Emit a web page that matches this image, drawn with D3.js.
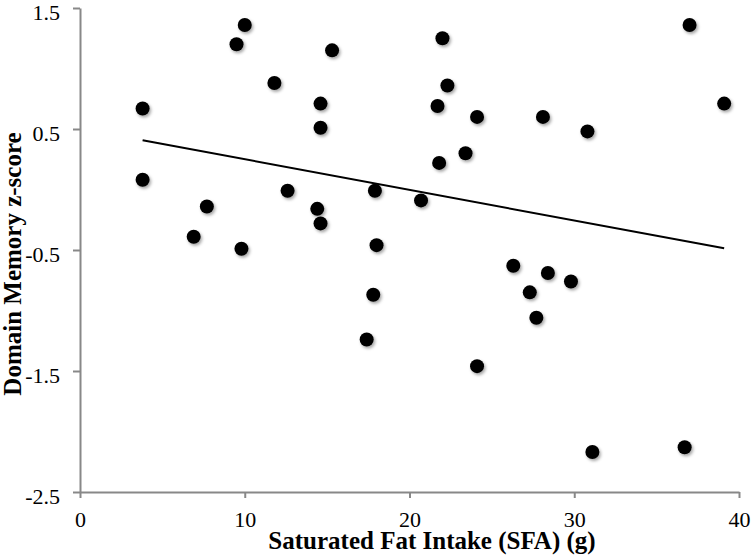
<!DOCTYPE html>
<meta charset="utf-8">
<html lang="en">
<head>
    <title>D3</title>
    <script src="https://d3js.org/d3.v7.min.js"></script>
    <style>
        body { margin: 0; background: #fff; }
    </style>
</head>
<body>
    <div id="viz"></div>
    <script>
        // data
        const sfa = [3.8, 3.8, 6.9, 7.7, 9.5, 10.0, 9.8, 11.8, 12.6, 15.3, 14.6, 14.6, 14.4, 14.6,
            17.9, 18.0, 17.8, 17.4, 20.7, 22.0, 22.3, 21.7, 24.1, 23.4, 21.8, 24.1,
            28.1, 30.8, 37.0, 39.1, 26.3, 28.4, 29.8, 27.3, 27.7, 31.1, 36.7];
        const memory = [0.67, 0.08, -0.39, -0.14, 1.20, 1.36, -0.49, 0.88, -0.01, 1.15, 0.71, 0.51, -0.16, -0.28,
            -0.01, -0.46, -0.87, -1.24, -0.09, 1.25, 0.86, 0.69, 0.60, 0.30, 0.22, -1.46,
            0.60, 0.48, 1.36, 0.71, -0.63, -0.69, -0.76, -0.85, -1.06, -2.17, -2.13];
        // fitted trend line (intercept, slope)
        const fit = [0.503, -0.0253];
        const xTicks = [0, 10, 20, 30, 40];
        const yTicks = [1.5, 0.5, -0.5, -1.5, -2.5];

        const margin = {top: 8, right: 13, bottom: 66, left: 80};
        const width = 752 - margin.left - margin.right;
        const height = 558 - margin.top - margin.bottom;
        const serif = "'Liberation Serif', 'Times New Roman', serif";

        const root = d3.select("#viz")
            .append("svg")
                .attr("width", 752)
                .attr("height", 558);

        // drop shadow for markers
        root.append("defs").append("filter")
            .attr("id", "shadow")
            .attr("x", "-50%").attr("y", "-50%")
            .attr("width", "200%").attr("height", "200%")
            .append("feDropShadow")
                .attr("dx", 1.5).attr("dy", 2)
                .attr("stdDeviation", 1.5)
                .attr("flood-color", "#000")
                .attr("flood-opacity", 0.35);

        const svg = root.append("g")
            .attr("transform", `translate(${margin.left},${margin.top})`);

        const x = d3.scaleLinear().domain([0, 40]).range([0, 659]);
        const y = d3.scaleLinear().domain([-2.5, 1.5]).range([484, 0]);

        const axisColor = "#888";

        // x axis
        const gx = svg.append("g")
            .attr("transform", `translate(0,${y(-2.5)})`)
            .call(d3.axisBottom(x).tickValues(xTicks).tickSize(6).tickSizeOuter(0).tickPadding(13));

        // y axis
        const gy = svg.append("g")
            .call(d3.axisLeft(y).tickValues(yTicks).tickFormat(d3.format(".1f")).tickSize(7).tickSizeOuter(0).tickPadding(13));

        [gx, gy].forEach(g => {
            g.selectAll("path, line").attr("stroke", axisColor).attr("stroke-width", 2);
            g.selectAll("text")
                .attr("fill", "#000")
                .style("font-family", serif)
                .style("font-size", "22px");
        });
        gy.selectAll("text").attr("y", 4).text(d => d.toFixed(1));

        // trend line
        const xs = d3.extent(sfa);
        svg.append("line")
            .attr("x1", x(xs[0])).attr("y1", y(fit[0] + fit[1] * xs[0]))
            .attr("x2", x(xs[1])).attr("y2", y(fit[0] + fit[1] * xs[1]))
            .attr("stroke", "#000")
            .attr("stroke-width", 2);

        // points
        svg.append("g")
            .attr("filter", "url(#shadow)")
            .selectAll("circle")
            .data(sfa)
            .join("circle")
                .attr("cx", d => x(d))
                .attr("cy", (d, i) => y(memory[i]))
                .attr("r", 7)
                .attr("fill", "#000");

        // axis titles
        svg.append("text")
            .attr("x", 432 - margin.left)
            .attr("y", 549 - margin.top)
            .attr("text-anchor", "middle")
            .style("font-family", serif)
            .style("font-size", "25px")
            .style("font-weight", "bold")
            .text("Saturated Fat Intake (SFA) (g)");

        svg.append("text")
            .attr("transform", `translate(${21 - margin.left},${264 - margin.top}) rotate(-90)`)
            .attr("text-anchor", "middle")
            .style("font-family", serif)
            .style("font-size", "25px")
            .style("font-weight", "bold")
            .text("Domain Memory z-score");
    </script>
</body>
</html>
